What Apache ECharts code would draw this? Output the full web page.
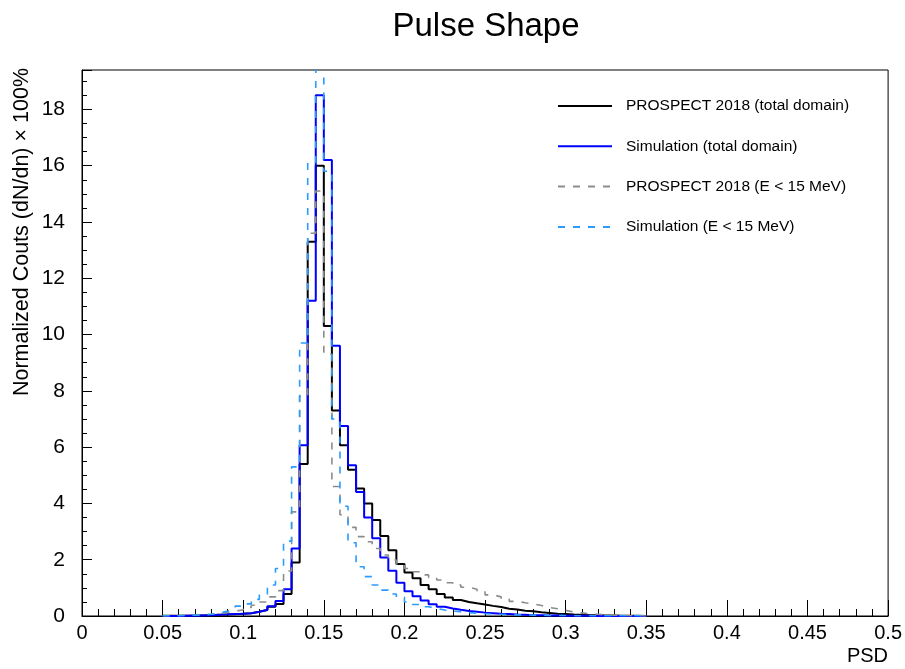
<!DOCTYPE html>
<html>
<head>
<meta charset="utf-8">
<script src="https://cdn.jsdelivr.net/npm/echarts@6/dist/echarts.min.js"></script>
<style>
html,body{margin:0;padding:0;background:#fff;}
#chart{width:905px;height:669px;}
</style>
</head>
<body>
<div id="chart"></div>
<script>
// Histogram binning (PSD)
const binStart = 0.05;
const binWidth = 0.005;

const xTickLabels = ['0','0.05','0.1','0.15','0.2','0.25','0.3','0.35','0.4','0.45','0.5'];

// PROSPECT 2018 (total domain)
const prospectTotal = [
  0.01,0.01,0.01,0.02,0.02,0.03,0.04,0.05,0.06,0.08,
  0.10,0.15,0.21,0.33,0.43,0.78,1.9,5.4,13.3,16.0,
  10.3,7.3,6.07,5.2,4.53,4.0,3.41,2.84,2.34,1.85,
  1.55,1.34,1.1,0.95,0.78,0.66,0.57,0.5,0.45,0.41,
  0.36,0.32,0.26,0.23,0.19,0.17,0.13,0.11,0.08,0.07,
  0.05,0.04,0.03,0.03,0.02,0.02,0.01,0.01,0.01,0.0
];
// Simulation (total domain)
const simTotal = [
  0.0,0.0,0.01,0.01,0.02,0.03,0.04,0.06,0.07,0.08,
  0.10,0.15,0.22,0.35,0.53,0.95,2.4,6.07,11.2,18.5,
  16.2,9.6,6.75,5.36,4.41,3.5,2.76,2.08,1.61,1.18,
  0.88,0.7,0.55,0.42,0.33,0.27,0.22,0.18,0.15,0.12,
  0.10,0.08,0.07,0.05,0.04,0.03,0.03,0.02,0.02,0.01,
  0.01,0.01,0.01,0.0,0.0,0.0,0.0,0.0,0.0,0.0
];
// PROSPECT 2018 (E < 15 MeV)
const prospectLowE = [
  0.01,0.02,0.02,0.03,0.04,0.06,0.08,0.12,0.17,0.22,
  0.3,0.38,0.5,0.68,0.9,1.6,3.7,7.8,13.6,15.1,
  9.3,4.6,3.6,3.15,2.82,2.64,2.4,2.17,1.99,1.85,
  1.69,1.57,1.46,1.37,1.28,1.18,1.1,1.02,0.95,0.86,
  0.75,0.68,0.6,0.52,0.47,0.43,0.37,0.3,0.26,0.2,
  0.14,0.11,0.08,0.06,0.04,0.03,0.02,0.01,0.01,0.0
];
// Simulation (E < 15 MeV)
const simLowE = [
  0.01,0.01,0.02,0.03,0.04,0.06,0.1,0.17,0.24,0.35,
  0.43,0.59,0.78,1.1,1.69,2.66,5.3,9.7,16.1,22.0,
  15.8,7.0,3.9,2.6,1.75,1.4,1.1,0.92,0.78,0.66,
  0.5,0.41,0.33,0.27,0.21,0.18,0.15,0.12,0.1,0.08,
  0.07,0.06,0.05,0.04,0.04,0.03,0.03,0.02,0.02,0.02,
  0.01,0.01,0.01,0.01,0.01,0.01,0.01,0.01,0.01,0.0
];

const seriesNames = [
  'PROSPECT 2018 (total domain)',
  'Simulation (total domain)',
  'PROSPECT 2018 (E < 15 MeV)',
  'Simulation (E < 15 MeV)'
];

function histPoints(vals){
  const pts = vals.map((v,i)=>[+(binStart + i*binWidth).toFixed(4), v]);
  pts.push([+(binStart + vals.length*binWidth).toFixed(4), vals[vals.length-1]]);
  return pts;
}

const FONT = 'Liberation Sans, Arial, Helvetica, sans-serif';

const chart = echarts.init(document.getElementById('chart'), null, {renderer:'canvas'});

function mkSeries(name, vals, color, type, width){
  return {
    name: name,
    type: 'line',
    step: 'end',
    data: histPoints(vals),
    showSymbol: false,
    symbol: 'none',
    clip: true,
    animation: false,
    lineStyle: {color: color, width: width, type: type},
    itemStyle: {color: color}
  };
}

chart.setOption({
  animation: false,
  backgroundColor: '#fff',
  title: {
    text: 'Pulse Shape',
    left: 481,
    textAlign: 'center',
    top: 5,
    textStyle: {fontFamily: FONT, fontSize: 33, fontWeight: 'normal', color: '#000'}
  },
  grid: {
    left: 82, right: 14, top: 70, bottom: 53,
    show: true, borderColor: '#000', borderWidth: 1, backgroundColor: 'transparent',
    containLabel: false
  },
  legend: {
    orient: 'vertical',
    left: 552,
    top: 93,
    itemWidth: 54,
    itemHeight: 14,
    itemGap: 24.3,
    align: 'left',
    data: seriesNames,
    itemStyle: {opacity: 0, color: 'rgba(0,0,0,0)', borderWidth: 0},
    textStyle: {fontFamily: FONT, fontSize: 15.5, color: '#000', padding: [0,0,0,9]}
  },
  xAxis: {
    type: 'value',
    min: 0, max: 0.5, interval: 0.05,
    axisLine: {show: true, onZero: false, lineStyle: {color: '#000', width: 1}},
    axisTick: {show: true, inside: true, length: 16, lineStyle: {color: '#000', width: 1}},
    minorTick: {show: true, splitNumber: 5, length: 7, lineStyle: {color: '#000', width: 1}},
    splitLine: {show: false},
    axisLabel: {
      fontFamily: FONT, fontSize: 20, color: '#000', margin: 7,
      formatter: function(v){ const i = Math.round(v/0.05); return xTickLabels[i] !== undefined ? xTickLabels[i] : ''; }
    }
  },
  yAxis: {
    type: 'value',
    min: 0, max: 19.4, interval: 2,
    axisLine: {show: true, onZero: false, lineStyle: {color: '#000', width: 1}},
    axisTick: {show: true, inside: true, length: 10, lineStyle: {color: '#000', width: 1}},
    minorTick: {show: true, splitNumber: 4, length: 5, lineStyle: {color: '#000', width: 1}},
    splitLine: {show: false},
    axisLabel: {
      fontFamily: FONT, fontSize: 21, color: '#000', margin: 17,
      formatter: function(v){ return (Math.abs(v/2 - Math.round(v/2)) < 1e-6) ? String(Math.round(v)) : ''; }
    }
  },
  graphic: [
    {
      type: 'text',
      x: 22, y: 68,
      rotation: Math.PI/2,
      style: {
        text: 'Normalized Couts (dN/dn) \u00d7 100%',
        fontFamily: FONT, fontSize: 21.5, fill: '#000',
        align: 'right', verticalAlign: 'middle'
      }
    },
    {
      type: 'text',
      x: 888, y: 656,
      style: {
        text: 'PSD',
        fontFamily: FONT, fontSize: 20, fill: '#000',
        align: 'right', verticalAlign: 'middle'
      }
    }
  ],
  series: [
    mkSeries(seriesNames[0], prospectTotal, '#000000', 'solid', 2),
    mkSeries(seriesNames[1], simTotal, '#0000ff', 'solid', 2),
    mkSeries(seriesNames[2], prospectLowE, '#8c8c8c', [7,8], 1.6),
    mkSeries(seriesNames[3], simLowE, '#2b9cff', [7,8], 1.6)
  ]
});
</script>
</body>
</html>
